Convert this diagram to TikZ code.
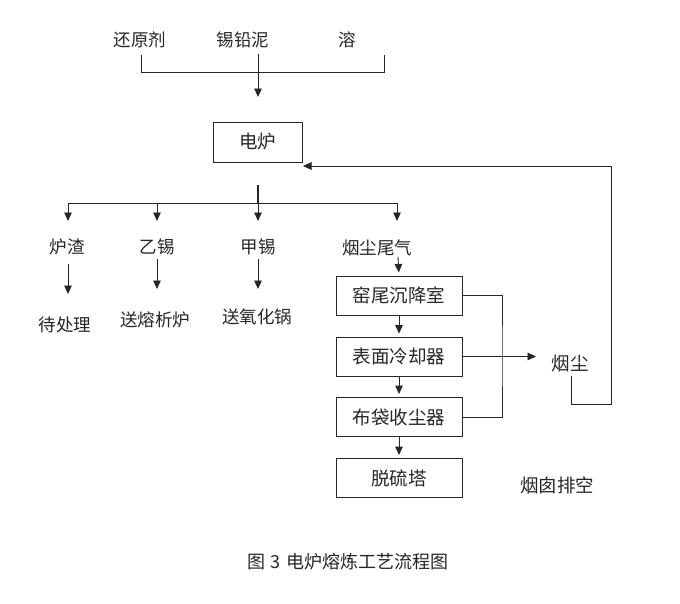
\documentclass[tikz,border=0pt]{standalone}
\usepackage{fontspec}
\newfontfamily\cjk{Noto Sans CJK SC}
\usetikzlibrary{arrows.meta}
\begin{document}
\begin{tikzpicture}[x=1pt,y=-1pt,
  font=\cjk\fontsize{17.5}{20}\selectfont,
  line/.style={draw=black!85, line width=0.9pt},
  arr/.style={line, -{Triangle[length=8.5pt,width=7.5pt]}},
  box/.style={draw=black!85, line width=0.9pt, minimum width=126pt, minimum height=39pt, inner sep=0pt, font=\cjk\fontsize{18.5}{20}\selectfont},
  lbl/.style={inner sep=0pt, text=black!85}]
\useasboundingbox[fill=white] (0,0) rectangle (680,603);

% inputs
\node[lbl] (hyj) at (140,40) {还原剂};
\node[lbl] (xqn) at (243,40) {锡铅泥};
\node[lbl] (rong) at (347,40) {溶};
\coordinate (bl) at (141,55);
\coordinate (br) at (384,55);
\coordinate (bm) at (384,72);
\draw[line] (bl) |- (bm) -- (br);
\coordinate (a0) at (258,54);
\coordinate (a0e) at (258,97);
\draw[arr] (a0) -- (a0e);

% furnace
\node[box, minimum width=89pt, minimum height=40pt, text=black!85] (dl) at (257.5,142) {电炉};

% outputs
\coordinate (t0) at (258,185);
\coordinate (t1) at (258,204);
\draw[draw=black!85, line width=2.6pt] (t0) -- (t1);
\coordinate (hL) at (68,203);
\coordinate (hR) at (397,203);
\coordinate (h2) at (157,203);
\coordinate (h3) at (258,203);
\draw[line] (hL) -- (hR);
\coordinate (e1) at (68,221);
\coordinate (e2) at (157,221);
\coordinate (e3) at (258,221);
\coordinate (e4) at (397,221);
\draw[arr] (hL) -- (e1);
\draw[arr] (h2) -- (e2);
\draw[arr] (h3) -- (e3);
\draw[arr] (hR) -- (e4);

\node[lbl] (lz) at (67,247) {炉渣};
\node[lbl] (yx) at (157,247) {乙锡};
\node[lbl] (jx) at (258,247) {甲锡};
\node[lbl] (yc) at (377,248) {烟尘尾气};

\node[lbl] (dcl) at (65,325) {待处理};
\node[lbl] (srx) at (155,320) {送熔析炉};
\node[lbl] (syh) at (257,317) {送氧化锅};

\coordinate (s1) at (68,264);
\coordinate (s1e) at (68,294);
\coordinate (s2) at (157,259);
\coordinate (s2e) at (157,289);
\coordinate (s3) at (258,259);
\coordinate (s3e) at (258,289);
\draw[arr] (s1) -- (s1e);
\draw[arr] (s2) -- (s2e);
\draw[arr] (s3) -- (s3e);

% gas treatment column
\node[box, text=black!85] (b1) at (399,295.5) {窑尾沉降室};
\node[box, text=black!85] (b2) at (399,356.5) {表面冷却器};
\node[box, text=black!85] (b3) at (399,417) {布袋收尘器};
\node[box, text=black!85] (b4) at (399,478) {脱硫塔};

\coordinate (g0) at (398,257);
\draw[arr, shorten >=3pt] (g0) -- (b1.north);
\draw[arr, shorten >=3pt] (b1.south) -- (b2.north);
\draw[arr, shorten >=3pt] (b2.south) -- (b3.north);
\draw[arr, shorten >=3pt] (b3.south) -- (b4.north);

\coordinate (c1) at (502,356.5);
\draw[line] (b1.east) -| (c1) |- (b3.east);
\coordinate (c2) at (536,356.5);
\draw[arr] (b2.east) -- (c2);

\node[lbl, font=\cjk\fontsize{18.5}{20}\selectfont] (ycn) at (570,364) {烟尘};
\node[lbl, font=\cjk\fontsize{18.5}{20}\selectfont] (ycpk) at (557,485) {烟囱排空};

\coordinate (y1) at (571,376);
\coordinate (y2) at (611,404);
\coordinate (ftip) at (303,166);
\draw[arr] (y1) |- (y2) |- (ftip);

% caption
\node[lbl, font=\cjk\fontsize{18}{20}\selectfont] (cap) at (348,562) {图\hspace{5pt}3\hspace{6pt}电炉熔炼工艺流程图};
\end{tikzpicture}
\end{document}
